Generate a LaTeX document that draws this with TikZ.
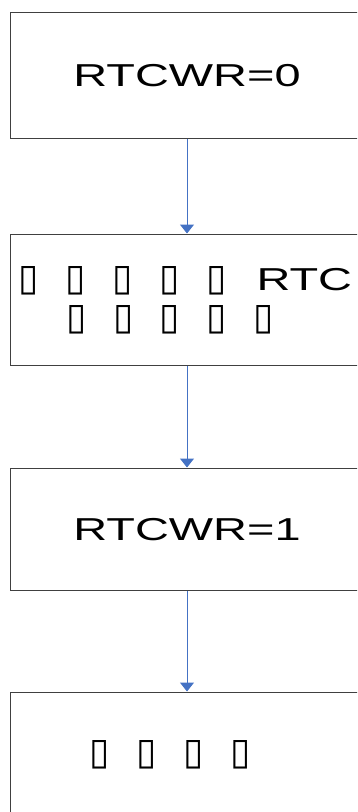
\documentclass[tikz,border=0pt]{standalone}
\usepackage{fontspec}
\setmainfont{Liberation Sans}
\newfontfamily\dejavu{DejaVu Sans}
\usepackage{graphicx}
\usetikzlibrary{arrows.meta}
\definecolor{arrowblue}{HTML}{4472C4}
\definecolor{boxgray}{HTML}{404040}
\newcommand{\wide}[1]{\scalebox{1.48}[1]{#1}}
\newcommand{\tofu}{\makebox[1em][l]{\hspace{-2.4pt}\resizebox{13.7pt}{24pt}{\dejavu\bfseries ▯}}}
\begin{document}
\begin{tikzpicture}[x=1pt,y=-1pt,
  box/.style={draw=boxgray,line width=1pt,minimum width=354pt,inner sep=0pt,fill=white},
  txt/.style={inner sep=0pt,font=\fontsize{31.7}{38}\selectfont,anchor=base},
  arr/.style={draw=arrowblue,line width=1pt,-{Triangle[width=14pt,length=9pt]}}]
\useasboundingbox (0,0) rectangle (357,812);
\clip (0,0) rectangle (357,812);
\fill[white] (0,0) rectangle (357,812);
\node[box,minimum height=126pt] (b1) at (187,75) {};
\node[box,minimum height=131pt] (b2) at (187,299.5) {};
\node[box,minimum height=122pt] (b3) at (187,529) {};
\node[box,minimum height=126pt] (b4) at (187,755) {};
\node[txt] (t1) at (187,86) {\wide{RTCWR=0}};
\node[txt] (t2a) at (187,290) {\wide{\tofu\tofu\tofu\tofu\tofu RTC}};
\node[txt] (t2b) at (187,329.5) {\wide{\tofu\tofu\tofu\tofu\tofu}};
\node[txt] (t3) at (187,540.5) {\wide{RTCWR=1}};
\node[txt] (t4) at (187,764) {\wide{\tofu\tofu\tofu\tofu}};
\draw[arr] (b1.south) -- (b2.north);
\draw[arr] (b2.south) -- (b3.north);
\draw[arr] (b3.south) -- (b4.north);
\end{tikzpicture}
\end{document}
